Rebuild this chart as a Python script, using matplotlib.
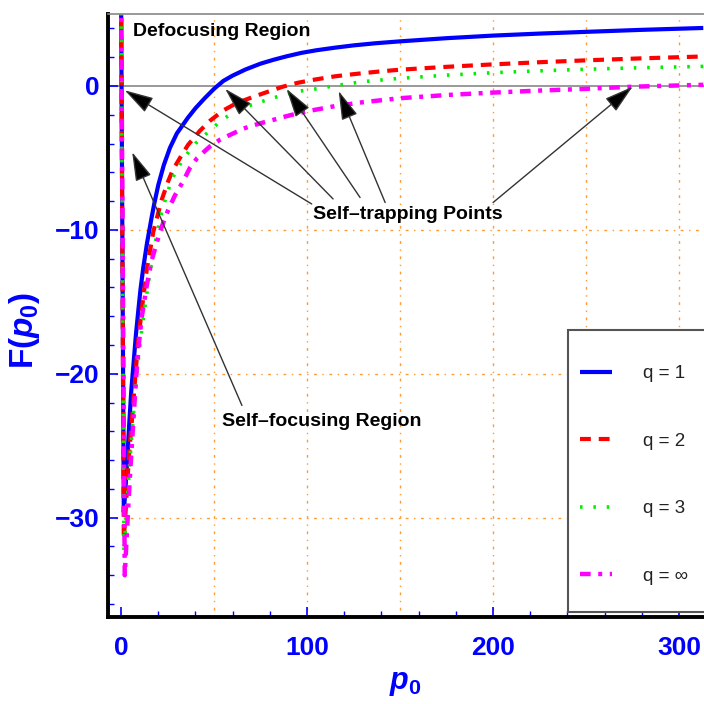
import numpy as np
import matplotlib
matplotlib.use('Agg')
import matplotlib.pyplot as plt
from matplotlib.patches import Rectangle
from matplotlib.ticker import MultipleLocator

plt.rcParams['font.family'] = ['Liberation Sans', 'DejaVu Sans']
plt.rcParams['mathtext.fontset'] = 'custom'
plt.rcParams['mathtext.it'] = 'Liberation Sans:bold:italic'
plt.rcParams['mathtext.rm'] = 'Liberation Sans:bold'
plt.rcParams['mathtext.bf'] = 'Liberation Sans:bold'

# values
p_q1 = [0.05, 1.5, 2.5, 3.5, 4.5, 5.5, 6.6, 8, 9.3, 10.5, 12, 14, 16.5, 18, 20, 23, 26.3, 30, 33, 36, 40,
        45, 50, 55, 60, 67, 75, 82, 89, 97, 105, 115, 125, 137, 150, 175, 200, 225, 250, 280, 313]
F_q1 = [6, -29.6, -27.8, -25.6, -23.3, -21.2, -19.5, -17.3, -15.6, -14.1, -12.6, -10.9, -9.1, -8.1, -6.9,
        -5.5, -4.3, -3.3, -2.75, -2.2, -1.55, -0.85, -0.2, 0.35, 0.72, 1.15, 1.55, 1.82, 2.06, 2.3, 2.48,
        2.66, 2.82, 2.97, 3.1, 3.32, 3.5, 3.64, 3.76, 3.9, 4.03]

p_q2 = [0.05, 1.5, 2.5, 3.5, 4.5, 6, 7.5, 9, 11.1, 13.8, 17.4, 21.9, 25.4, 28, 31.7, 36, 42.5, 48, 55, 62,
        71, 79, 87, 95, 103, 115, 125, 140, 150, 175, 200, 225, 250, 280, 313]
F_q2 = [6, -31.5, -29.5, -27.3, -25.3, -23.0, -20.5, -18.0, -15.6, -12.8, -10.1, -7.9, -6.6, -5.8, -5.0,
        -4.1, -3.1, -2.4, -1.7, -1.2, -0.76, -0.4, -0.05, 0.22, 0.42, 0.67, 0.82, 1.02, 1.13, 1.33, 1.5,
        1.65, 1.78, 1.92, 2.05]

p_q3 = [0.05, 1.6, 2.5, 3.5, 4.5, 5.5, 7, 8.5, 9.8, 11.3, 12.9, 15.6, 18, 20, 22, 24.5, 27, 30, 34.4, 40,
        46, 53, 60, 68, 76.5, 84, 91, 98, 105, 115, 130, 150, 175, 200, 225, 250, 280, 313]
F_q3 = [6, -32.5, -30.5, -28.5, -26.5, -24.8, -22.3, -20.0, -18.4, -16.8, -15.3, -12.9, -11.1, -9.9, -8.7,
        -7.6, -6.6, -5.8, -4.9, -4.0, -3.3, -2.5, -1.85, -1.4, -1.05, -0.75, -0.5, -0.32, -0.2, 0.02, 0.3,
        0.53, 0.75, 0.92, 1.05, 1.16, 1.27, 1.36]

p_qinf = [0.05, 2, 3, 4, 5, 6.2, 7.5, 8.4, 9.7, 11.1, 13.8, 16.5, 19, 21, 23, 25.4, 29, 33.5, 37, 41, 47.8,
          53, 58.6, 66, 74.7, 82, 89, 95, 102.5, 115, 130, 150, 175, 200, 225, 250, 275, 313]
F_qinf = [6, -34, -31.5, -29.0, -26.7, -24.2, -21.5, -19.8, -17.8, -16.1, -13.9, -12.1, -11.0, -10.1, -9.4,
          -8.6, -7.6, -6.6, -5.7, -5.0, -4.2, -3.75, -3.4, -2.95, -2.6, -2.35, -2.1, -1.9, -1.7, -1.4,
          -1.13, -0.85, -0.63, -0.46, -0.32, -0.2, -0.05, 0.08]

labels = ['q = 1', 'q = 2', 'q = 3', 'q = \u221e']

# self-trapping arrows: (tip, tail) in data units
trap_tips = [(2, -0.3), (56, -0.2), (89, -0.2), (117, -0.35), (275, -0.05)]
trap_tails = [(102.5, -8.2), (114, -7.85), (128.5, -7.75), (142, -8.1), (200, -8.1)]

fig = plt.figure(figsize=(7.04, 7.04), dpi=100)
ax = fig.add_axes([0.1534, 0.1236, 0.8466, 0.8565])

ax.axhline(0, color='#888888', lw=1.2, zorder=1)
for xv in [50, 100, 150, 200, 250, 300]:
    ax.axvline(xv, color='#FF9933', lw=1, ls=(0, (1, 4, 2, 4)), zorder=0)
for yv in [-10, -20, -30]:
    ax.axhline(yv, color='#FF9933', lw=1, ls=(0, (1, 4, 2, 4)), zorder=0)

l1, = ax.plot(p_q1, F_q1, color='#0000FF', lw=3, solid_capstyle='butt')
l2, = ax.plot(p_q2, F_q2, color='#FF0000', lw=3, ls=(0, (2.6, 1.9)))
l3, = ax.plot(p_q3, F_q3, color='#00EE00', lw=2.6, ls=(0, (0.7, 3.0)))
l4, = ax.plot(p_qinf, F_qinf, color='#FF00FF', lw=3.2, ls=(0, (2.4, 1.7, 0.9, 1.7)))

ax.set_xlim(-7, 313.4)
ax.set_ylim(-36.9, 5)

ax.xaxis.set_major_locator(MultipleLocator(100))
ax.xaxis.set_minor_locator(MultipleLocator(20))
ax.yaxis.set_major_locator(MultipleLocator(10))
ax.yaxis.set_minor_locator(MultipleLocator(2))
ax.tick_params(which='both', direction='in', color='#0000FF', top=False, right=False)
ax.tick_params(which='major', length=7, width=1.2, labelsize=19, labelcolor='#0000FF')
ax.tick_params(axis='x', which='major', pad=14)
ax.tick_params(axis='y', which='major', pad=6)
ax.tick_params(which='minor', length=4, width=1)
for t in ax.get_xticklabels() + ax.get_yticklabels():
    t.set_fontweight('bold')

for s in ['left', 'bottom']:
    ax.spines[s].set_linewidth(2.8)
    ax.spines[s].set_color('black')
ax.spines['top'].set_color('#888888')
ax.spines['top'].set_linewidth(1.2)
ax.spines['right'].set_visible(False)

ax.set_xlabel(r'$p_0$', fontsize=22, color='#0000FF')
ax.set_ylabel(r'F($p_0$)', fontsize=24, color='#0000FF', fontweight='bold')
ax.xaxis.set_label_coords(0.498, -0.085)
ax.yaxis.set_label_coords(-0.11, 0.476)

ax.text(6.5, 3.8, 'Defocusing Region', fontsize=14, fontweight='bold', va='center', ha='left')
ax.text(154, -8.9, 'Self\u2013trapping Points', fontsize=14, fontweight='bold', va='center', ha='center')
ax.text(108, -23.3, 'Self\u2013focusing Region', fontsize=14, fontweight='bold', va='center', ha='center')

arrow_kw = dict(arrowstyle='-|>,head_length=0.9,head_width=0.26', mutation_scale=20,
                lw=1, color='#333333', fc='black', shrinkA=0, shrinkB=0)
for tip, tail in zip(trap_tips, trap_tails):
    ax.annotate('', xy=tip, xytext=tail, arrowprops=arrow_kw)
ax.annotate('', xy=(6, -4.6), xytext=(65, -22.2), arrowprops=arrow_kw)

ax.add_patch(Rectangle((0.772, 0.0083), 0.25, 0.468, transform=ax.transAxes,
                       fill=True, fc='white', ec='#555555', lw=1.5, zorder=4, clip_on=False))
leg = ax.legend([l1, l2, l3, l4], labels, loc='upper left', bbox_to_anchor=(0.792, 0.418),
                frameon=False, fontsize=13.5, borderpad=0, borderaxespad=0,
                handlelength=1.7, handletextpad=1.65, labelspacing=2.69)
for t in leg.get_texts():
    t.set_color('#222222')
leg.set_zorder(5)

fig.savefig('out.png', dpi=100)
